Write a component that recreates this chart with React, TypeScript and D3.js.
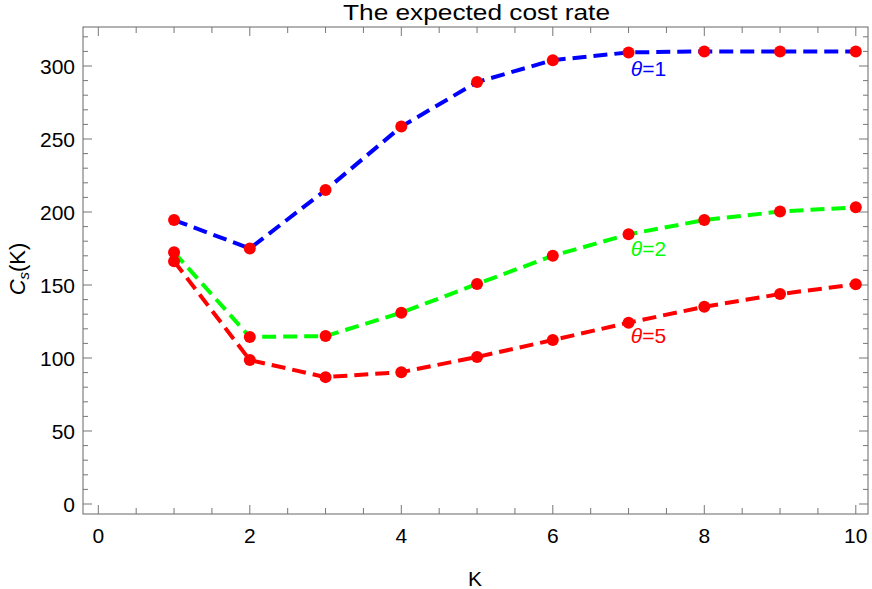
import React from "react";
import * as d3 from "d3";

const ks = [1, 2, 3, 4, 5, 6, 7, 8, 9, 10];
const theta1 = [194.5, 175, 215, 258.5, 289, 304, 309.3, 310, 310, 310];
const theta2 = [172.4, 114.4, 115, 131, 150.7, 170, 184.7, 194.5, 200.3, 203.2];
const theta5 = [166.3, 98.6, 86.9, 90.3, 100.7, 112.3, 124.2, 135.1, 143.8, 150.5];
const seriesNames = ["θ=1", "θ=2", "θ=5"];
const seriesColors = ["#0000ff", "#00ff00", "#ff0000"];
const labelK = [7.03, 7.03, 7.03];
const labelVal = [293, 170, 110];
const xMajor = [0, 2, 4, 6, 8, 10];
const yMajor = [0, 50, 100, 150, 200, 250, 300];

const W = 872, H = 589;
const frame = { left: 83, right: 868, top: 27, bottom: 514 };
const FONT = "'Liberation Sans', Arial, sans-serif";

export default function App() {
  const x = d3.scaleLinear().domain([0, 10]).range([98.3, 855.8]);
  const y = d3.scaleLinear().domain([0, 300]).range([504, 66]);
  const xMinor = d3.range(0, 10.01, 0.5).filter((v) => !xMajor.includes(v));
  const yMinor = d3.range(0, 321, 10).filter((v) => !yMajor.includes(v));
  const data = [theta1, theta2, theta5];
  const line = d3.line<number>().x((_, i) => x(ks[i])).y((d) => y(d));
  const tickCol = "#777";
  return (
    <svg width={W} height={H} style={{ position: "absolute", left: 0, top: 0, fontFamily: FONT }}>
      <rect x={0} y={0} width={W} height={H} fill="#fff" />
      {/* frame */}
      <rect x={frame.left} y={frame.top} width={frame.right - frame.left} height={frame.bottom - frame.top}
        fill="none" stroke="#666" strokeWidth={1} />
      {/* x ticks */}
      {xMajor.map((v) => (
        <g key={"xm" + v}>
          <line x1={x(v)} x2={x(v)} y1={frame.bottom} y2={frame.bottom - 9} stroke={tickCol} />
          <line x1={x(v)} x2={x(v)} y1={frame.top} y2={frame.top + 9} stroke={tickCol} />
          <text x={x(v)} y={543} textAnchor="middle" fontSize={21} fill="#000">{v}</text>
        </g>
      ))}
      {xMinor.map((v) => (
        <g key={"xn" + v}>
          <line x1={x(v)} x2={x(v)} y1={frame.bottom} y2={frame.bottom - 6} stroke={tickCol} />
          <line x1={x(v)} x2={x(v)} y1={frame.top} y2={frame.top + 6} stroke={tickCol} />
        </g>
      ))}
      {/* y ticks */}
      {yMajor.map((v) => (
        <g key={"ym" + v}>
          <line x1={frame.left} x2={frame.left + 9} y1={y(v)} y2={y(v)} stroke={tickCol} />
          <line x1={frame.right} x2={frame.right - 9} y1={y(v)} y2={y(v)} stroke={tickCol} />
          <text x={75} y={y(v)} dy="0.36em" textAnchor="end" fontSize={21} fill="#000">{v}</text>
        </g>
      ))}
      {yMinor.map((v) => (
        <g key={"yn" + v}>
          <line x1={frame.left} x2={frame.left + 5} y1={y(v)} y2={y(v)} stroke={tickCol} />
          <line x1={frame.right} x2={frame.right - 5} y1={y(v)} y2={y(v)} stroke={tickCol} />
        </g>
      ))}
      {/* series */}
      {data.map((s, si) => (
        <path key={"l" + si} d={line(s) || ""} fill="none" stroke={seriesColors[si]} strokeWidth={4}
          strokeDasharray="14 7" />
      ))}
      {data.map((s, si) => s.map((v, i) => (
        <circle key={"p" + si + "-" + i} cx={x(ks[i])} cy={y(v)} r={6} fill="#ff0000" />
      )))}
      {seriesNames.map((n, si) => (
        <text key={"t" + si} x={x(labelK[si])} y={y(labelVal[si])} fontSize={21} fill={seriesColors[si]}>
          <tspan fontStyle="italic">{n.slice(0, 1)}</tspan>{n.slice(1)}
        </text>
      ))}
      {/* title & labels */}
      <text x={476.5} y={20} textAnchor="middle" fontSize={22} textLength={267} lengthAdjust="spacingAndGlyphs" fill="#000">The expected cost rate</text>
      <text x={475} y={586} textAnchor="middle" fontSize={21} fill="#000">K</text>
      <text transform="translate(25,269) rotate(-90)" textAnchor="middle" fontSize={22} fill="#000">
        <tspan fontStyle="italic">C</tspan>
        <tspan fontStyle="italic" fontSize={15} dy={4}>s</tspan>
        <tspan dy={-4}>(K)</tspan>
      </text>
    </svg>
  );
}
